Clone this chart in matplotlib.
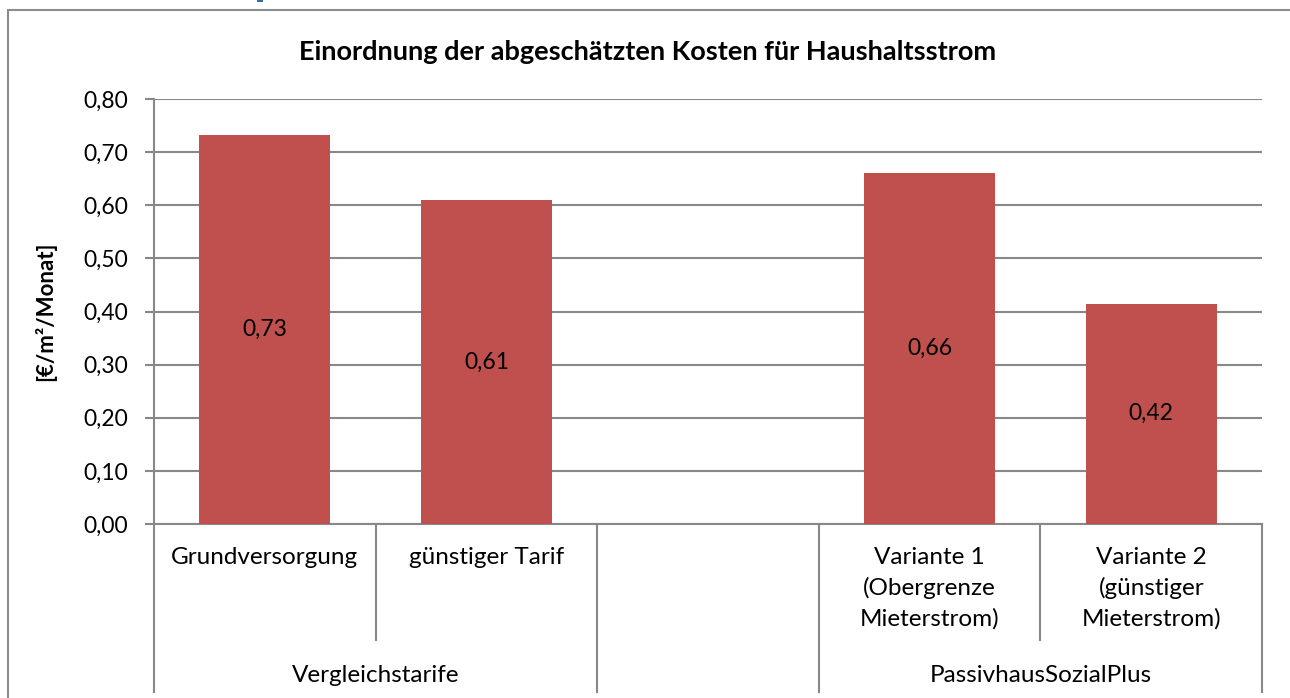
import matplotlib
matplotlib.use("Agg")
import matplotlib.pyplot as plt
from matplotlib.patches import Rectangle

plt.rcParams['font.family'] = ['Lato', 'DejaVu Sans']

# data
categories = ["Grundversorgung", "günstiger Tarif", "",
              "Variante 1\n(Obergrenze\nMieterstrom)",
              "Variante 2\n(günstiger\nMieterstrom)"]
values = [0.733, 0.61, None, 0.661, 0.415]
labels = ["0,73", "0,61", "", "0,66", "0,42"]
groups = ["Vergleichstarife", "PassivhausSozialPlus"]
group_centers = [0.5, 3.5]
yticks = [0.0, 0.1, 0.2, 0.3, 0.4, 0.5, 0.6, 0.7, 0.8]

W, H = 1290, 698
fig = plt.figure(figsize=(W / 100, H / 100), dpi=100)
fs = 16.5

# outer chart frame (cut off at right/bottom like the screenshot)
fig.add_artist(Rectangle((8 / W, -0.05), 1.1, 1 - 10 / H + 0.05,
                         transform=fig.transFigure, fill=False,
                         edgecolor="#8c8c8c", linewidth=1.5))
# bit of blue heading cut off at the top edge
fig.add_artist(Rectangle((257 / W, 1 - 2 / H), 6 / W, 3 / H,
                         transform=fig.transFigure, color="#2e6db4", lw=0))

ax_l, ax_r, ax_t, ax_b = 154, 1262, 99, 524
ax = fig.add_axes([ax_l / W, 1 - ax_b / H, (ax_r - ax_l) / W, (ax_b - ax_t) / H])
axh = ax_b - ax_t

col = "#888888"
xs = [i for i, v in enumerate(values) if v is not None]
vs = [v for v in values if v is not None]
ax.bar(xs, vs, width=0.59, color="#C0504D", zorder=3)

for i, v in enumerate(values):
    if v is None:
        continue
    ax.text(i, v / 2, labels[i], ha="center", va="center", fontsize=fs, zorder=4)

ax.set_xlim(-0.5, 4.5)
ax.set_ylim(0, 0.8)
ax.set_yticks(yticks)
ax.set_yticklabels([f"{t:.2f}".replace(".", ",") for t in yticks], fontsize=fs)
ax.yaxis.grid(True, color=col, linewidth=1.5, zorder=0)
ax.set_axisbelow(True)
ax.tick_params(axis="y", length=6.5, width=1.5, color=col, pad=12)
ax.set_xticks([])
for s in ["top", "right"]:
    ax.spines[s].set_visible(False)
for s in ["left", "bottom"]:
    ax.spines[s].set_color(col)
    ax.spines[s].set_linewidth(1.5)

ax.set_ylabel("[€/m²/Monat]", fontsize=16, fontweight="bold", labelpad=20)
fig.text(648 / W, 1 - 52 / H,
         "Einordnung der abgeschätzten Kosten für Haushaltsstrom",
         fontsize=19.5, fontweight="bold", ha="center", va="center")

# category separators below the axis
short = -(640 - ax_b) / axh
long_ = -(692 - ax_b) / axh
for x, y1 in [(-0.5, long_), (0.5, short), (1.5, long_), (2.5, long_),
              (3.5, short), (4.5, long_)]:
    ax.plot([x, x], [0, y1], color=col, linewidth=1.5,
            transform=ax.get_xaxis_transform(), clip_on=False)

# category labels
for i, c in enumerate(categories):
    if c:
        ax.text(i, -(547 - ax_b) / axh, c, ha="center", va="top", fontsize=17.5,
                linespacing=1.5, transform=ax.get_xaxis_transform())

# group labels
for g, gx in zip(groups, group_centers):
    ax.text(gx, -(676 - ax_b) / axh, g, ha="center", va="center", fontsize=17.5,
            transform=ax.get_xaxis_transform())

fig.savefig("out.png", dpi=100)
